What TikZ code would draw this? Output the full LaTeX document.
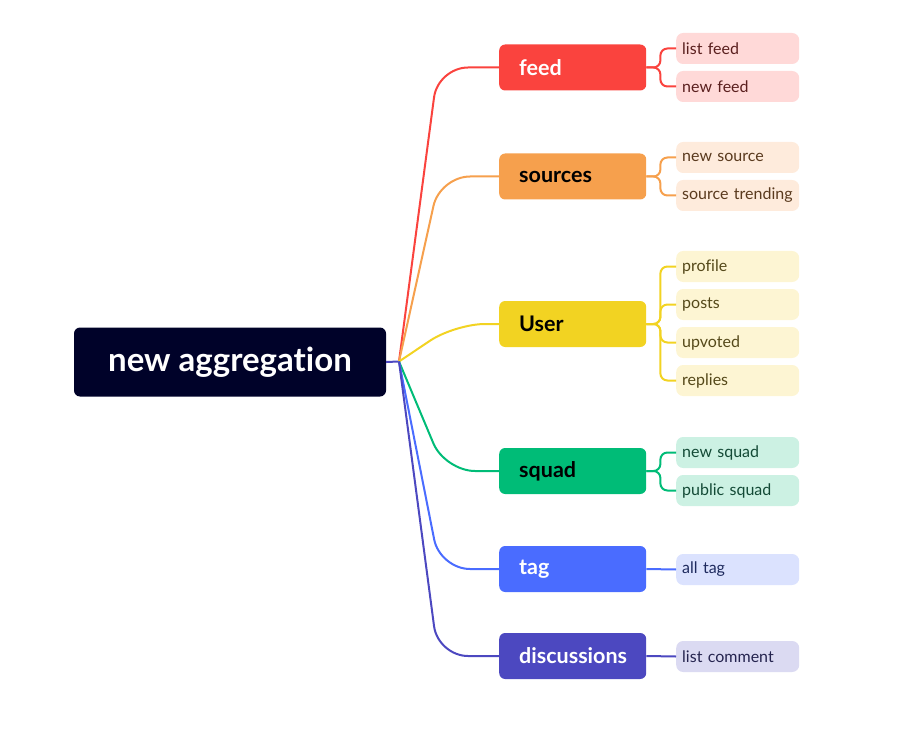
\documentclass[tikz,border=0pt]{standalone}
\usepackage{fontspec}
\setmainfont[Ligatures=NoCommon,RawFeature={-liga;-dlig;-clig}]{Lato}
\definecolor{cRoot}{HTML}{000229}
\definecolor{cFeed}{HTML}{FA433E}
\definecolor{cSrc}{HTML}{F6A04D}
\definecolor{cUser}{HTML}{F2D322}
\definecolor{cSquad}{HTML}{00BC77}
\definecolor{cTag}{HTML}{4A6CFF}
\definecolor{cDisc}{HTML}{4C48C0}
\definecolor{lFeed}{HTML}{FFD9D8}
\definecolor{lSrc}{HTML}{FEEBDC}
\definecolor{lUser}{HTML}{FDF5D3}
\definecolor{lSquad}{HTML}{CCF1E3}
\definecolor{lTag}{HTML}{DBE2FE}
\definecolor{lDisc}{HTML}{DBDAF2}
\definecolor{tFeed}{HTML}{5A1F1E}
\definecolor{tSrc}{HTML}{5A3A1E}
\definecolor{tUser}{HTML}{55491A}
\definecolor{tSquad}{HTML}{134A36}
\definecolor{tTag}{HTML}{1E2A5E}
\definecolor{tDisc}{HTML}{25244F}
\tikzset{
  rootbox/.style={fill=cRoot, rounded corners=6pt, minimum width=312pt, minimum height=69pt, text=white, font=\fontsize{33}{38}\selectfont\bfseries, inner sep=0pt},
  branchbox/.style={fill=#1, rounded corners=6pt, minimum width=147pt, minimum height=46pt, text width=107pt, inner xsep=20pt, inner ysep=0pt, align=left, anchor=west, font=\fontsize{21.5}{25}\selectfont\bfseries},
  leafbox/.style={rounded corners=7pt, minimum width=123pt, minimum height=31pt, text width=111pt, inner xsep=6pt, inner ysep=0pt, align=left, anchor=west, font=\fontsize{16}{19}\selectfont},
  link/.style={line width=2pt, draw=#1},
}
\begin{document}
\begin{tikzpicture}[x=1pt,y=-1pt]
\useasboundingbox (0,0) rectangle (913,738);
% root
\node[rootbox] (root) at (230,362) {new aggregation};
\coordinate (hub) at (399,361.5);
% branches
\node[branchbox=cFeed, text=white] (feed) at (499,67.5) {feed};
\node[branchbox=cSrc, text=black] (src) at (499,176.5) {sources};
\node[branchbox=cUser, text=black] (user) at (499,324) {User};
\node[branchbox=cSquad, text=black] (squad) at (499,471) {squad};
\node[branchbox=cTag, text=white] (tag) at (499,569) {tag};
\node[branchbox=cDisc, text=white] (disc) at (499,656) {discussions};
% leaves
\node[leafbox, fill=lFeed, text=tFeed] (lf1) at (676,48.5) {list feed};
\node[leafbox, fill=lFeed, text=tFeed] (lf2) at (676,86.5) {new feed};
\node[leafbox, fill=lSrc, text=tSrc] (ls1) at (676,157.5) {new source};
\node[leafbox, fill=lSrc, text=tSrc] (ls2) at (676,195.5) {source trending};
\node[leafbox, fill=lUser, text=tUser] (lu1) at (676,266.5) {profile};
\node[leafbox, fill=lUser, text=tUser] (lu2) at (676,304.5) {posts};
\node[leafbox, fill=lUser, text=tUser] (lu3) at (676,342.5) {upvoted};
\node[leafbox, fill=lUser, text=tUser] (lu4) at (676,380.5) {replies};
\node[leafbox, fill=lSquad, text=tSquad] (lq1) at (676,452.5) {new squad};
\node[leafbox, fill=lSquad, text=tSquad] (lq2) at (676,490.5) {public squad};
\node[leafbox, fill=lTag, text=tTag] (lt1) at (676,569.5) {all tag};
\node[leafbox, fill=lDisc, text=tDisc] (ld1) at (676,656.5) {list comment};
% root to hub
\draw[link=cDisc] (root.east) -- (hub);
% hub to branches
\draw[link=cFeed, rounded corners=30pt] (hub) -- (438,67.5) -- (feed.west);
\draw[link=cSrc, rounded corners=30pt] (hub) -- (440,176.5) -- (src.west);
\draw[link=cUser, rounded corners=30pt] (hub) -- (455,324) -- (user.west);
\draw[link=cSquad, rounded corners=30pt] (hub) -- (445,471) -- (squad.west);
\draw[link=cTag, rounded corners=30pt] (hub) -- (440,569) -- (tag.west);
\draw[link=cDisc, rounded corners=30pt] (hub) -- (438,656) -- (disc.west);
% branch to leaves
\foreach \b/\l/\c in {feed/lf1/cFeed, feed/lf2/cFeed, src/ls1/cSrc, src/ls2/cSrc, user/lu1/cUser, user/lu2/cUser, user/lu3/cUser, user/lu4/cUser, squad/lq1/cSquad, squad/lq2/cSquad}{
  \draw[link=\c, rounded corners=7pt] (\b.east) -- ++(14,0) |- (\l.west);
}
\draw[link=cTag] (tag.east) -- (lt1.west);
\draw[link=cDisc] (disc.east) -- (ld1.west);
\end{tikzpicture}
\end{document}
